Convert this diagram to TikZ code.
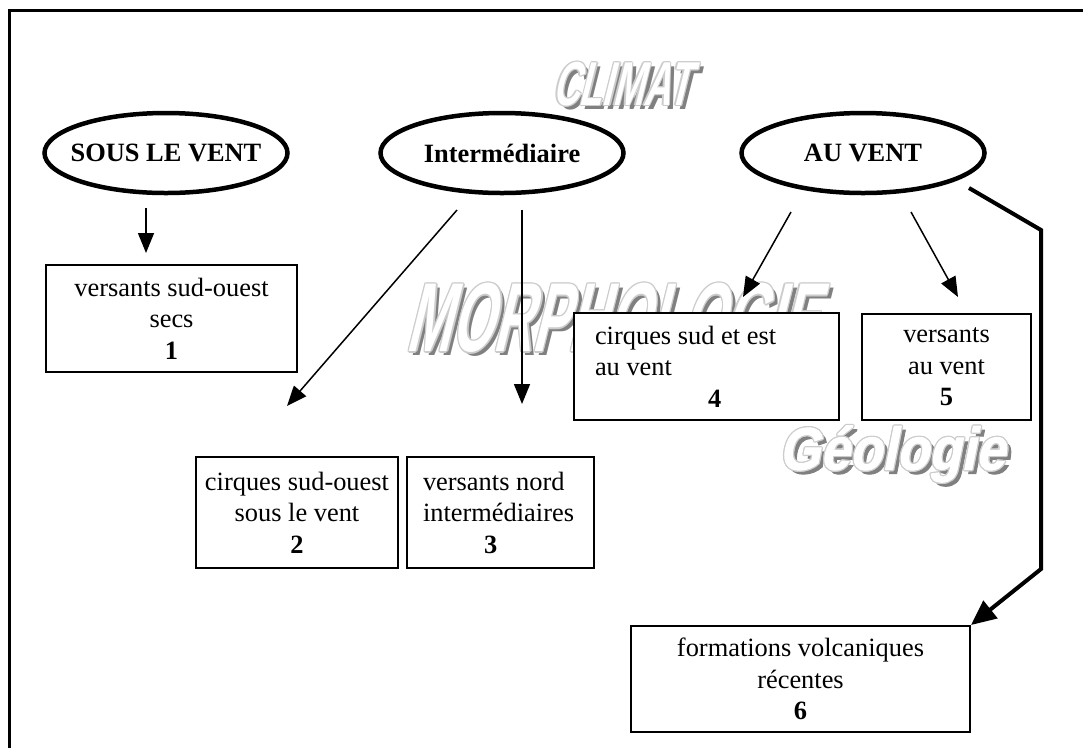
\documentclass[tikz,border=0pt]{standalone}
\usepackage{fontspec}
\setmainfont{Liberation Serif}
\newfontfamily\wmfontc[FakeStretch=0.6,FakeSlant=0.25]{Liberation Sans}
\newfontfamily\wmfontm[FakeStretch=0.55,FakeSlant=0.25]{Liberation Sans}
\newfontfamily\wmfontg[FakeStretch=0.88,FakeSlant=0.2,FakeBold=1.5]{Liberation Sans}
\usetikzlibrary{shapes.geometric,arrows.meta}
\newcommand\wmark[4]{%
  \node[wm,text=black!50,xshift=4pt,yshift=-4pt,font=#3] (#1-s) at (#2) {#4};
  \foreach \dx/\dy [count=\k] in {1.3/0,-1.3/0,0/1.3,0/-1.3,0.9/0.9,-0.9/0.9,0.9/-0.9,-0.9/-0.9}
    \node[wm,text=black!20,xshift=\dx pt,yshift=\dy pt,font=#3] (#1-o\k) at (#2) {#4};
  \node[wm,text=white,font=#3] (#1) at (#2) {#4};
}
\begin{document}
\begin{tikzpicture}[x=1pt,y=-1pt,
  wm/.style={inner sep=0pt},
  txt/.style={font=\fontsize{26.4}{31.5}\selectfont},
  oval/.style={ellipse,draw,line width=4.5pt,minimum width=243pt,minimum height=80pt,inner sep=0pt,
    font=\fontsize{26.4}{31.5}\selectfont\bfseries},
  boxc/.style={draw,line width=2pt,fill=white,align=center,inner sep=0pt,txt},
  boxl/.style={draw,line width=2pt,fill=white,align=flush left,inner ysep=0pt,txt},
  arr/.style={line width=1.5pt,-{Triangle[length=20pt,width=16pt]}},
  bigarr/.style={line width=4pt,line join=miter,-{Triangle[length=25pt,width=22pt]}}]
\useasboundingbox (0,0) rectangle (1083,748);
% frame
\draw[line width=3pt] (1083,10.5) -- (9.5,10.5) -- (9.5,748);
% watermarks
\wmark{climat}{621,84}{\wmfontc\bfseries\fontsize{62}{66}\selectfont}{CLIMAT}
\wmark{morpho}{611,318}{\wmfontm\bfseries\fontsize{98}{100}\selectfont}{MORPHOLOGIE}
\wmark{geol}{892,454}{\wmfontg\bfseries\fontsize{60}{64}\selectfont}{Géologie}
% ovals
\node[oval] (sous) at (166,153) {\makebox[0pt]{\raisebox{-3pt}{SOUS LE VENT}}};
\node[oval] (inter) at (502,153) {\makebox[0pt]{\raisebox{-3pt}{Intermédiaire}}};
\node[oval] (au) at (863,153) {\makebox[0pt]{\raisebox{-3pt}{AU VENT}}};
% boxes
\node[boxc,minimum width=251pt,minimum height=107pt] (b1) at (171.5,318.5)
  {versants sud-ouest\\secs\\\textbf{1}};
\node[boxc,minimum width=202pt,minimum height=111pt] (b2) at (297,512.5)
  {cirques sud-ouest\\sous le vent\\\textbf{2}};
\node[boxl,inner xsep=16pt,text width=155pt,minimum height=111pt] (b3) at (500.5,512.5)
  {versants nord\\intermédiaires\\\hspace*{61pt}\textbf{3}};
\node[boxl,inner xsep=21pt,text width=223pt,minimum height=107pt] (b4) at (706.5,366.5)
  {cirques sud et est\\au vent\\\hspace*{113pt}\textbf{4}};
\node[boxc,minimum width=169pt,minimum height=106pt] (b5) at (946.5,367)
  {versants\\au vent\\\textbf{5}};
\node[boxc,minimum width=339pt,minimum height=106pt] (b6) at (800.5,679)
  {formations volcaniques\\récentes\\\textbf{6}};
% connector end points
\coordinate (s1) at (146,208); \coordinate (t1) at (146,253);
\coordinate (s2) at (457,210); \coordinate (t2) at (287,406);
\coordinate (s3) at (522,210); \coordinate (t3) at (522,404);
\coordinate (s4) at (791,212); \coordinate (t4) at (743,297);
\coordinate (s5) at (911,212); \coordinate (t5) at (958,297);
\coordinate (s6) at (969,188); \coordinate (k1) at (1041,230); \coordinate (k2) at (1041,569);
\draw[arr] (s1) -- (t1);
\draw[arr] (s2) -- (t2);
\draw[arr] (s3) -- (t3);
\draw[arr] (s4) -- (t4);
\draw[arr] (s5) -- (t5);
\draw[bigarr] (s6) -- (k1) -- (k2) -- (b6.north east);
\end{tikzpicture}
\end{document}
